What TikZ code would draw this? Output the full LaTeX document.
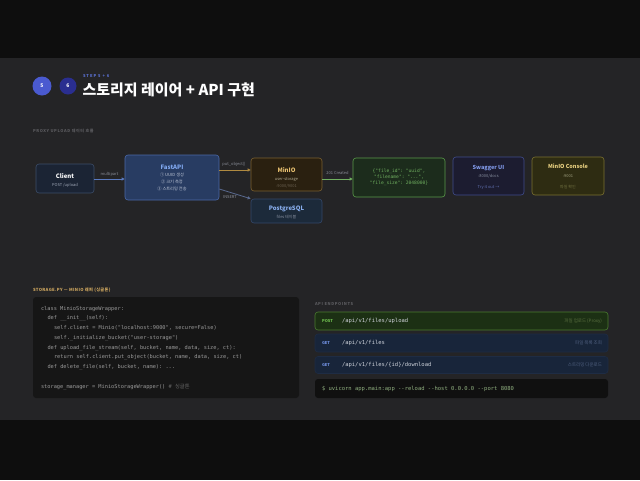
\documentclass[tikz,border=0pt]{standalone}
\usepackage{fontspec}
\setmainfont{Noto Sans CJK KR}
\setmonofont{DejaVu Sans Mono}
\newfontfamily\krfont{Noto Sans CJK KR}
\usetikzlibrary{arrows.meta}
\definecolor{bgdark}{HTML}{0E0E0E}
\definecolor{bgmid}{HTML}{242426}
\definecolor{cfive}{HTML}{4A5AD0}
\definecolor{csix}{HTML}{2A2E90}
\definecolor{stepText}{HTML}{5A70D0}
\definecolor{hdrGray}{HTML}{5C5C60}
\definecolor{hdrGold}{HTML}{D0A860}
\definecolor{cliFill}{HTML}{1B2434}
\definecolor{cliLine}{HTML}{3C4C68}
\definecolor{cliSub}{HTML}{A0A8B8}
\definecolor{apiFill}{HTML}{283C62}
\definecolor{apiLine}{HTML}{4A68A8}
\definecolor{apiText}{HTML}{80A8F0}
\definecolor{apiSub}{HTML}{C0C8D8}
\definecolor{minFill}{HTML}{2A2010}
\definecolor{minLine}{HTML}{7A6030}
\definecolor{minText}{HTML}{E8C070}
\definecolor{minSub}{HTML}{B0A890}
\definecolor{minDim}{HTML}{6A6050}
\definecolor{pgFill}{HTML}{1C2A3A}
\definecolor{pgLine}{HTML}{34486A}
\definecolor{pgText}{HTML}{8AB0F0}
\definecolor{pgSub}{HTML}{8890A0}
\definecolor{resFill}{HTML}{1C2C1C}
\definecolor{resLine}{HTML}{5A9A4A}
\definecolor{resText}{HTML}{70B060}
\definecolor{swFill}{HTML}{1C1C30}
\definecolor{swLine}{HTML}{404C8C}
\definecolor{swText}{HTML}{8098E8}
\definecolor{swSub}{HTML}{8890A0}
\definecolor{swDim}{HTML}{6070B0}
\definecolor{coFill}{HTML}{2E2C12}
\definecolor{coLine}{HTML}{7A7030}
\definecolor{coText}{HTML}{E8D080}
\definecolor{coSub}{HTML}{A0A080}
\definecolor{coDim}{HTML}{707040}
\definecolor{codeFill}{HTML}{161616}
\definecolor{codeText}{HTML}{9A9A9A}
\definecolor{codeDim}{HTML}{6A6A6A}
\definecolor{postFill}{HTML}{1C3014}
\definecolor{postLine}{HTML}{4A7A30}
\definecolor{postText}{HTML}{70C050}
\definecolor{postDim}{HTML}{5A7040}
\definecolor{getFill}{HTML}{18253A}
\definecolor{getLine}{HTML}{1E2C44}
\definecolor{getText}{HTML}{7090E0}
\definecolor{getDim}{HTML}{506080}
\definecolor{pathText}{HTML}{D0D4DC}
\definecolor{termFill}{HTML}{101010}
\definecolor{termText}{HTML}{90B080}
\definecolor{arrBlue}{HTML}{5A7AC0}
\definecolor{arrGold}{HTML}{B08A40}
\definecolor{arrSlate}{HTML}{5A6A90}
\definecolor{arrGreen}{HTML}{70B060}
\definecolor{lblGray}{HTML}{8A8E98}
\tikzset{
  box/.style={draw, rounded corners=3pt, line width=0.6pt, inner sep=0pt},
  txt/.style={inner sep=0pt, outer sep=0pt},
  ttl/.style={txt, font=\fontsize{6}{7}\selectfont\bfseries},
  sub/.style={txt, font=\fontsize{4.2}{5}\selectfont},
  mono/.style={txt, anchor=west, font=\fontsize{5.3}{6}\selectfont\ttfamily, text=codeText},
  pmono/.style={txt, anchor=west, font=\fontsize{5.5}{6}\selectfont\ttfamily},
  arr/.style={line width=0.8pt, -{Triangle[length=3pt,width=3pt]}},
  albl/.style={txt, font=\fontsize{4}{5}\selectfont, text=lblGray}
}
\begin{document}
\begin{tikzpicture}[x=1pt,y=-1pt]
\useasboundingbox (0,0) rectangle (640,480);
\fill[bgdark] (0,0) rectangle (640,480);
\fill[bgmid] (0,58) rectangle (640,420);
% header
\node[circle, fill=cfive, minimum size=19, inner sep=0] (c5) at (42,86) {};
\node[txt, text=white, font=\fontsize{5}{6}\selectfont\bfseries] (c5t) at (c5) {5};
\node[circle, fill=csix, minimum size=17, inner sep=0] (c6) at (68,86) {};
\node[txt, text=white, font=\fontsize{5}{6}\selectfont\bfseries] (c6t) at (c6) {6};
\node[txt, anchor=west, text=stepText, font=\fontsize{4}{5}\selectfont\bfseries\addfontfeature{LetterSpace=25}] (step) at (83,75.7) {STEP 5 + 6};
\node[txt, anchor=west, text=white, font=\fontsize{15}{17}\selectfont\bfseries] (title) at (82.5,89.5) {스토리지 레이어 + API 구현};
\node[txt, anchor=west, text=hdrGray, font=\fontsize{4}{5}\selectfont\bfseries\addfontfeature{LetterSpace=15}] (flowhdr) at (33,131) {PROXY UPLOAD 데이터 흐름};

% nodes
\node[box, fill=cliFill, draw=cliLine, minimum width=58, minimum height=29] (client) at (65,178.5) {};
\node[ttl, text=white] (clientT) at (65,176) {Client};
\node[sub, text=cliSub, font=\fontsize{4}{5}\selectfont] (clientS) at (65,185) {POST /upload};

\node[box, fill=apiFill, draw=apiLine, minimum width=94, minimum height=45] (fastapi) at (172,177.5) {};
\node[ttl, text=apiText] (fastT) at (172,167) {FastAPI};
\node[sub, text=apiSub] (fast1) at (172,174.5) {① UUID 생성};
\node[sub, text=apiSub] (fast2) at (172,181.5) {② 크기 측정};
\node[sub, text=apiSub] (fast3) at (172,188.5) {③ 스트리밍 전송};

\node[box, fill=minFill, draw=minLine, minimum width=71, minimum height=33] (minio) at (286.5,174.5) {};
\node[ttl, text=minText] (minT) at (286.5,170.5) {MinIO};
\node[sub, text=minSub, font=\fontsize{4}{5}\selectfont] (minS) at (286.5,179.5) {user-storage};
\node[sub, text=minDim, font=\fontsize{4}{5}\selectfont] (minD) at (286.5,186) {:9000/9001};

\node[box, fill=pgFill, draw=pgLine, minimum width=71, minimum height=24] (pg) at (286.5,211) {};
\node[ttl, text=pgText] (pgT) at (286.5,208.5) {PostgreSQL};
\node[sub, text=pgSub, font=\fontsize{4}{5}\selectfont] (pgS) at (286.5,217) {files 테이블};

\node[box, fill=resFill, draw=resLine, minimum width=92, minimum height=39] (res) at (399,177.5) {};
\node[txt, text=resText, font=\fontsize{4.6}{5}\selectfont\ttfamily] (res1) at (399,171) {\{"file\_id": "uuid",};
\node[txt, text=resText, font=\fontsize{4.6}{5}\selectfont\ttfamily] (res2) at (399,177.3) {"filename": "...",};
\node[txt, text=resText, font=\fontsize{4.6}{5}\selectfont\ttfamily] (res3) at (399,183.7) {"file\_size": 2048000\}};

\node[box, fill=swFill, draw=swLine, minimum width=71, minimum height=38] (sw) at (488.5,176) {};
\node[ttl, text=swText, font=\fontsize{5.5}{6}\selectfont\bfseries] (swT) at (488.5,167.7) {Swagger UI};
\node[sub, text=swSub, font=\fontsize{4}{5}\selectfont] (swS) at (488.5,176) {:8000/docs};
\node[sub, text=swDim, font=\fontsize{4}{5}\selectfont] (swD) at (488.5,187) {Try it out →};

\node[box, fill=coFill, draw=coLine, minimum width=72, minimum height=38] (co) at (568,176) {};
\node[ttl, text=coText, font=\fontsize{5.5}{6}\selectfont\bfseries] (coT) at (568,166.7) {MinIO Console};
\node[sub, text=coSub, font=\fontsize{4}{5}\selectfont] (coS) at (568,175.7) {:9001};
\node[sub, text=coDim, font=\fontsize{4}{5}\selectfont] (coD) at (568,187) {파일 확인};

% connectors
\coordinate (y170) at (0,170);
\coordinate (y179) at (0,179);
\coordinate (y189) at (0,189);
\draw[arr, arrBlue] (client.east |- y179) -- (fastapi.west |- y179);
\node[albl] (l1) at (109.5,174) {multipart};
\draw[arr, arrGold] (fastapi.east |- y170) -- (minio.west |- y170);
\node[albl] (l2) at (234,164) {put\_object()};
\draw[arr, arrSlate] (fastapi.east |- y189) -- (pg.north west);
\node[albl] (l3) at (230,197) {INSERT};
\draw[arr, arrGreen] (minio.east |- y179) -- (res.west |- y179);
\node[albl] (l4) at (337.5,173) {201 Created};

% code section
\node[txt, anchor=west, text=hdrGold, font=\fontsize{4.2}{5}\selectfont\bfseries\addfontfeature{LetterSpace=8}] (codehdr) at (33,290) {STORAGE.PY — MINIO 래퍼 (싱글톤)};
\node[box, draw=none, fill=codeFill, minimum width=266, minimum height=101] (code) at (166,347.5) {};
\node[mono] (k1) at (41,309) {class MinioStorageWrapper:};
\node[mono] (k2) at (47.5,318.3) {def \_\_init\_\_(self):};
\node[mono] (k3) at (54,327.7) {self.client = Minio("localhost:9000", secure=False)};
\node[mono] (k4) at (54,337.7) {self.\_initialize\_bucket("user-storage")};
\node[mono] (k5) at (47.5,347.7) {def upload\_file\_stream(self, bucket, name, data, size, ct):};
\node[mono] (k6) at (54,357.3) {return self.client.put\_object(bucket, name, data, size, ct)};
\node[mono] (k7) at (47.5,367.3) {def delete\_file(self, bucket, name): ...};
\node[mono] (k8) at (41,386.7) {storage\_manager = MinioStorageWrapper()  \textcolor{codeDim}{\# {\krfont 싱글톤}}};

% API endpoints
\node[txt, anchor=west, text=hdrGray, font=\fontsize{4}{5}\selectfont\bfseries\addfontfeature{LetterSpace=15}] (apihdr) at (315,304) {API ENDPOINTS};
\node[box, fill=postFill, draw=postLine, minimum width=293, minimum height=18] (post) at (461.5,321) {};
\node[txt, anchor=west, text=postText, font=\fontsize{4}{5}\selectfont\bfseries] (postM) at (322,321) {POST};
\node[pmono, text=pathText] (postP) at (342,321) {/api/v1/files/upload};
\node[txt, anchor=east, text=postDim, font=\fontsize{4.5}{5}\selectfont] (postR) at (602,321) {파일 업로드 (Proxy)};

\node[box, fill=getFill, draw=getLine, minimum width=293, minimum height=18] (get1) at (461.5,343) {};
\node[txt, anchor=west, text=getText, font=\fontsize{4}{5}\selectfont\bfseries] (get1M) at (322,343) {GET};
\node[pmono, text=pathText] (get1P) at (342,343) {/api/v1/files};
\node[txt, anchor=east, text=getDim, font=\fontsize{4.5}{5}\selectfont] (get1R) at (602,343) {파일 목록 조회};

\node[box, fill=getFill, draw=getLine, minimum width=293, minimum height=17] (get2) at (461.5,365) {};
\node[txt, anchor=west, text=getText, font=\fontsize{4}{5}\selectfont\bfseries] (get2M) at (322,365) {GET};
\node[pmono, text=pathText] (get2P) at (342,365) {/api/v1/files/\{id\}/download};
\node[txt, anchor=east, text=getDim, font=\fontsize{4.5}{5}\selectfont] (get2R) at (602,365) {스트리밍 다운로드};

\node[box, draw=none, fill=termFill, minimum width=293, minimum height=19] (term) at (461.5,388.5) {};
\node[pmono, text=termText] (termT) at (322,388.5) {\$ uvicorn app.main:app --reload --host 0.0.0.0 --port 8080};
\end{tikzpicture}
\end{document}
